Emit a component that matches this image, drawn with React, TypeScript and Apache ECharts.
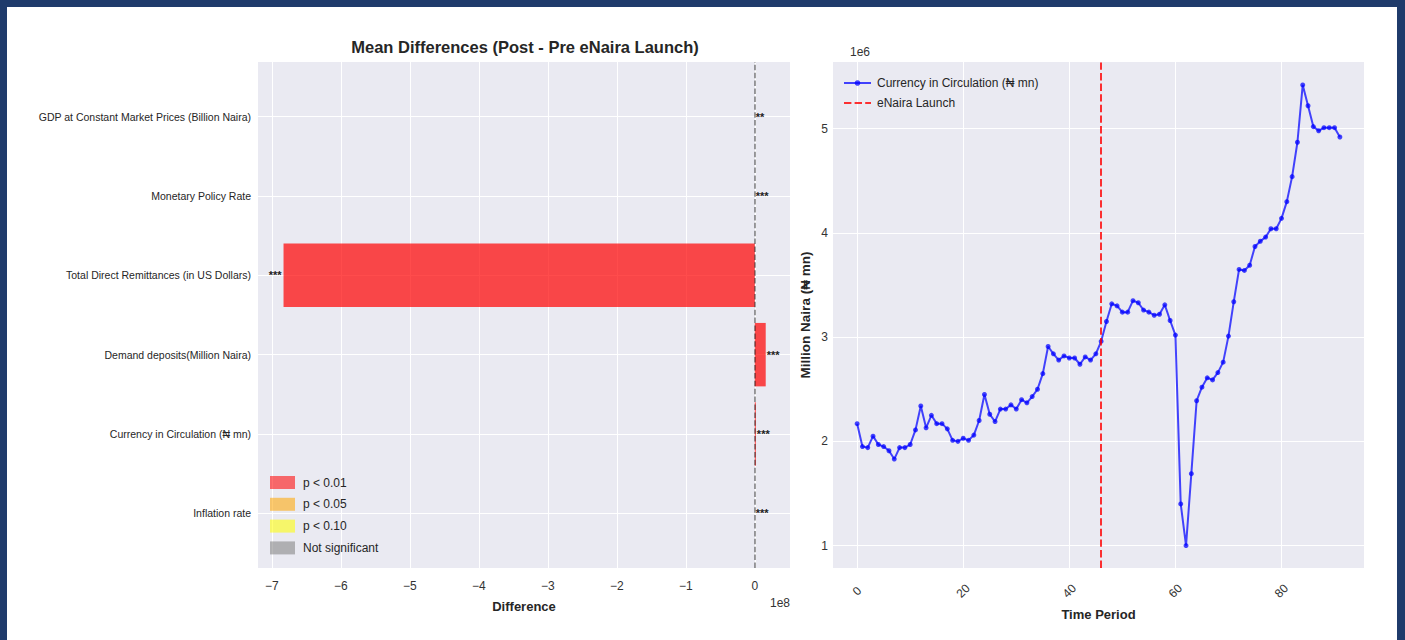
import React, { useEffect, useRef } from 'react';
import * as echarts from 'echarts';

// ---------- Left panel data (mean differences, in units of 1e8) ----------
const categories = [
  'Inflation rate',
  'Currency in Circulation (₦ mn)',
  'Demand deposits(Million Naira)',
  'Total Direct Remittances (in US Dollars)',
  'Monetary Policy Rate',
  'GDP at Constant Market Prices (Billion Naira)',
];
const meanDiff1e8 = [0.0000001, 0.015, 0.158, -6.83, 0.0000001, 0.00002];
const significance = ['***', '***', '***', '***', '***', '**'];
const legendLabels = ['p < 0.01', 'p < 0.05', 'p < 0.10', 'Not significant'];
const legendColors = ['rgba(255,0,0,0.7)', 'rgba(255,165,0,0.7)', 'rgba(255,255,0,0.7)', 'rgba(128,128,128,0.7)'];
const xTicksLeft = [-7, -6, -5, -4, -3, -2, -1, 0];
const yTicksLeft = [0, 1, 2, 3, 4, 5];

// ---------- Right panel data (currency in circulation, in units of 1e6 ₦ mn) ----------
const currency1e6 = [
  2.17, 1.95, 1.94, 2.05, 1.97, 1.95, 1.91, 1.83, 1.94, 1.94,
  1.97, 2.11, 2.34, 2.13, 2.25, 2.17, 2.17, 2.12, 2.01, 2.00,
  2.03, 2.01, 2.06, 2.20, 2.45, 2.26, 2.19, 2.31, 2.31, 2.35,
  2.31, 2.40, 2.37, 2.43, 2.50, 2.65, 2.91, 2.84, 2.78, 2.82,
  2.80, 2.80, 2.74, 2.81, 2.78, 2.84, 2.96, 3.15, 3.32, 3.30,
  3.24, 3.24, 3.35, 3.33, 3.26, 3.24, 3.21, 3.22, 3.31, 3.16,
  3.02, 1.40, 1.00, 1.69, 2.39, 2.52, 2.61, 2.59, 2.66, 2.76,
  3.01, 3.34, 3.65, 3.64, 3.69, 3.87, 3.92, 3.96, 4.04, 4.04,
  4.14, 4.30, 4.54, 4.87, 5.42, 5.22, 5.02, 4.98, 5.01, 5.01,
  5.01, 4.92,
];
const launchIndex = 46;
const xTicksRight = [0, 20, 40, 60, 80];
const yTicksRight = [1, 2, 3, 4, 5];

const FONT = "'Liberation Sans', Arial, 'DejaVu Sans', sans-serif";
const TXT = '#262626';
const BLUE = 'rgba(0,0,255,0.72)';
const RED = 'rgba(255,0,0,0.8)';

const sigToIndex = (s: string) => (s === '***' ? 0 : s === '**' ? 1 : s === '*' ? 2 : 3);
const fmtMinus = (v: number) => (v < 0 ? '\u2212' + Math.abs(v) : String(v));

export default function App() {
  const ref = useRef<HTMLDivElement>(null);

  useEffect(() => {
    if (!ref.current) return;
    const chart = echarts.init(ref.current, undefined, { renderer: 'svg' });

    const barData = categories.map((c, i) => [meanDiff1e8[i], i, sigToIndex(significance[i])]);

    const option: any = {
      animation: false,
      backgroundColor: '#ffffff',
      textStyle: { fontFamily: FONT },
      title: {
        text: 'Mean Differences (Post - Pre eNaira Launch)',
        left: 513,
        top: 26,
        textAlign: 'center',
        textStyle: { fontSize: 16.5, fontWeight: 'bold', color: TXT, fontFamily: FONT },
      },
      grid: [
        { left: 251, top: 55, width: 532, height: 506, show: true, backgroundColor: '#eaeaf2', borderWidth: 0 },
        { left: 826, top: 55, width: 531, height: 506, show: true, backgroundColor: '#eaeaf2', borderWidth: 0 },
      ],
      xAxis: [
        {
          type: 'value', gridIndex: 0, min: -7.2, max: 0.51,
          axisLine: { show: false },
          axisTick: { show: false, customValues: xTicksLeft },
          axisLabel: { customValues: xTicksLeft, formatter: (v: number) => fmtMinus(v), fontSize: 12, color: '#333', margin: 12 },
          splitLine: { show: true, lineStyle: { color: '#ffffff', width: 1 } },
          name: 'Difference', nameLocation: 'middle', nameGap: 32,
          nameTextStyle: { fontSize: 13, fontWeight: 'bold', color: TXT },
        },
        {
          type: 'value', gridIndex: 1, min: -4.55, max: 95.55,
          axisLine: { show: false },
          axisTick: { show: false, customValues: xTicksRight },
          axisLabel: {
            customValues: xTicksRight, rotate: 45, align: 'center', verticalAlign: 'middle',
            fontSize: 12, color: '#333', margin: 23,
          },
          splitLine: { show: true, lineStyle: { color: '#ffffff', width: 1 } },
          name: 'Time Period', nameLocation: 'middle', nameGap: 40,
          nameTextStyle: { fontSize: 13, fontWeight: 'bold', color: TXT },
        },
      ],
      yAxis: [
        {
          type: 'value', gridIndex: 0, min: -0.69, max: 5.69,
          axisLine: { show: false },
          axisTick: { show: false, customValues: yTicksLeft },
          axisLabel: { customValues: yTicksLeft, formatter: (v: number) => categories[Math.round(v)] ?? '', fontSize: 10.5, color: TXT, margin: 7 },
          splitLine: { show: true, lineStyle: { color: '#ffffff', width: 1 } },
        },
        {
          type: 'value', gridIndex: 1, min: 0.785, max: 5.64,
          axisLine: { show: false },
          axisTick: { show: false, customValues: yTicksRight },
          axisLabel: { customValues: yTicksRight, fontSize: 12, color: '#333', margin: 5 },
          splitLine: { show: true, lineStyle: { color: '#ffffff', width: 1 } },
          name: 'Million Naira (₦ mn)', nameLocation: 'middle', nameGap: 21,
          nameTextStyle: { fontSize: 13.5, fontWeight: 'bold', color: TXT },
        },
      ],
      legend: [
        {
          data: legendLabels, orient: 'vertical', left: 263, top: 469, padding: 0,
          icon: 'rect', itemWidth: 25, itemHeight: 13, itemGap: 8.8,
          textStyle: { fontSize: 12, color: TXT, padding: [0, 0, 0, 3] },
          selectedMode: false,
        },
        {
          data: [
            { name: 'Currency in Circulation (₦ mn)' },
            { name: 'eNaira Launch', itemStyle: { color: 'rgba(0,0,0,0)', borderWidth: 0 } },
          ],
          orient: 'vertical', left: 836, top: 70, padding: 0,
          itemWidth: 27, itemHeight: 7, itemGap: 8,
          textStyle: { fontSize: 12, color: TXT, padding: [0, 0, 0, 1] },
          selectedMode: false,
        },
      ],
      graphic: [
        { type: 'text', x: 783, y: 596, style: { text: '1e8', align: 'right', verticalAlign: 'middle', fontSize: 12, fill: '#333', fontFamily: FONT } },
        { type: 'text', x: 843, y: 45, style: { text: '1e6', align: 'left', verticalAlign: 'middle', fontSize: 12, fill: '#333', fontFamily: FONT } },
      ],
      series: [
        {
          type: 'custom', xAxisIndex: 0, yAxisIndex: 0, z: 3,
          encode: { x: 0, y: 1 },
          data: barData,
          renderItem: (params: any, api: any) => {
            const val = api.value(0);
            const idx = api.value(1);
            const col = legendColors[api.value(2)];
            const start = api.coord([0, idx]);
            const end = api.coord([val, idx]);
            const h = api.size([0, 0.8])[1];
            const i = params.dataIndex;
            return {
              type: 'group',
              children: [
                {
                  type: 'rect',
                  shape: { x: Math.min(start[0], end[0]), y: start[1] - h / 2, width: Math.abs(end[0] - start[0]), height: h },
                  style: { fill: col },
                },
                {
                  type: 'text',
                  x: end[0] + (val >= 0 ? 1 : -2),
                  y: end[1],
                  style: {
                    text: significance[i], align: val >= 0 ? 'left' : 'right', verticalAlign: 'middle',
                    fontSize: 11, fontWeight: 'bold', fill: '#222', fontFamily: FONT,
                  },
                },
              ],
            };
          },
        },
        {
          type: 'line', xAxisIndex: 0, yAxisIndex: 0, data: [], z: 4,
          markLine: {
            silent: true, symbol: 'none', label: { show: false },
            lineStyle: { color: 'rgba(0,0,0,0.5)', width: 1.5, type: [5.5, 2.4] },
            data: [{ xAxis: 0 }],
          },
        },
        ...legendLabels.map((name, k) => ({
          type: 'scatter', name, xAxisIndex: 0, yAxisIndex: 0, data: [],
          itemStyle: { color: legendColors[k] },
        })),
        {
          type: 'line', name: 'Currency in Circulation (₦ mn)', xAxisIndex: 1, yAxisIndex: 1,
          data: currency1e6.map((v, i) => [i, v]),
          symbol: 'circle', symbolSize: 5, showSymbol: true,
          lineStyle: { color: BLUE, width: 2 },
          itemStyle: { color: BLUE },
          z: 3,
        },
        {
          type: 'line', name: 'eNaira Launch', xAxisIndex: 1, yAxisIndex: 1, data: [],
          symbol: 'none',
          lineStyle: { color: RED, width: 2, type: [7.4, 3.2] },
          itemStyle: { color: RED },
          z: 4,
          markLine: {
            silent: true, symbol: 'none', label: { show: false },
            lineStyle: { color: RED, width: 2, type: [7.4, 3.2] },
            data: [{ xAxis: launchIndex }],
          },
        },
      ],
    };

    chart.setOption(option);
    return () => chart.dispose();
  }, []);

  return (
    <div style={{ position: 'fixed', left: 0, top: 0, width: 1405, height: 640, background: '#1f3b6b' }}>
      <div ref={ref} style={{ position: 'absolute', left: 7, top: 7, width: 1390, height: 633 }} />
    </div>
  );
}
